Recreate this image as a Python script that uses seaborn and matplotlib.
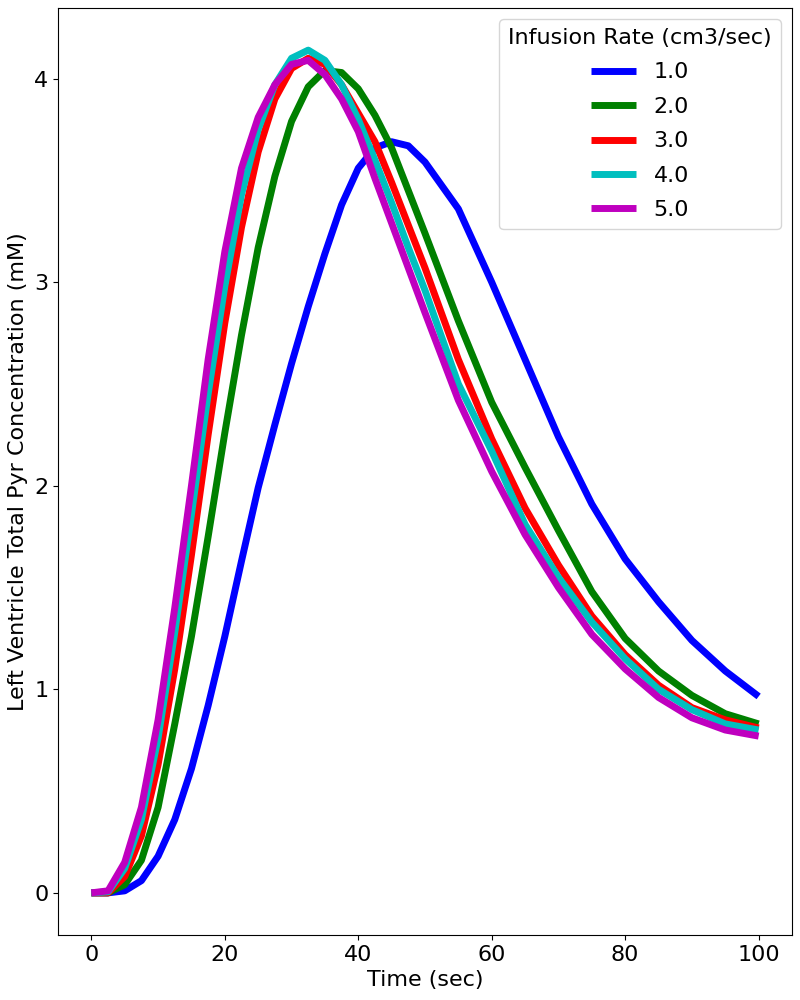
import matplotlib
matplotlib.use("Agg")
import matplotlib.pyplot as plt
import seaborn as sns
import pandas as pd
import numpy as np

# time grid (sec)
time = [0, 2.5, 5, 7.5, 10, 12.5, 15, 17.5, 20, 22.5, 25, 27.5, 30, 32.5, 35,
        37.5, 40, 42.5, 45, 47.5, 50, 55, 60, 65, 70, 75, 80, 85, 90, 95, 100]

# left ventricle total pyr concentration (mM), one list per infusion rate
rate_1 = [0.0, 0.0, 0.01, 0.06, 0.18, 0.36, 0.61, 0.92, 1.26, 1.63, 1.99, 2.30, 2.60,
          2.88, 3.14, 3.38, 3.56, 3.66, 3.69, 3.67, 3.59, 3.36, 3.00, 2.62, 2.24, 1.91,
          1.64, 1.43, 1.24, 1.09, 0.965]
rate_2 = [0.0, 0.0, 0.04, 0.16, 0.42, 0.83, 1.26, 1.75, 2.26, 2.74, 3.17, 3.52, 3.79,
          3.96, 4.04, 4.03, 3.95, 3.82, 3.66, 3.45, 3.24, 2.81, 2.41, 2.09, 1.78, 1.48,
          1.25, 1.09, 0.97, 0.88, 0.83]
rate_3 = [0.0, 0.0, 0.08, 0.28, 0.63, 1.10, 1.66, 2.25, 2.80, 3.27, 3.64, 3.90, 4.05,
          4.10, 4.07, 3.97, 3.83, 3.69, 3.49, 3.28, 3.07, 2.62, 2.23, 1.89, 1.61, 1.36,
          1.17, 1.02, 0.91, 0.85, 0.81]
rate_4 = [0.0, 0.005, 0.12, 0.36, 0.76, 1.28, 1.86, 2.45, 2.98, 3.43, 3.75, 3.97, 4.10,
          4.14, 4.09, 3.97, 3.80, 3.60, 3.39, 3.17, 2.96, 2.50, 2.17, 1.81, 1.55, 1.33,
          1.15, 1.00, 0.90, 0.83, 0.80]
rate_5 = [0.0, 0.01, 0.15, 0.42, 0.85, 1.40, 2.00, 2.62, 3.15, 3.56, 3.81, 3.97, 4.07,
          4.09, 4.02, 3.90, 3.74, 3.51, 3.29, 3.07, 2.85, 2.42, 2.07, 1.76, 1.50, 1.27,
          1.10, 0.96, 0.86, 0.80, 0.77]

rates = ["1.0", "2.0", "3.0", "4.0", "5.0"]
series = [rate_1, rate_2, rate_3, rate_4, rate_5]
colors = ["b", "g", "r", "c", "m"]

frames = []
for rate, values in zip(rates, series):
    frames.append(pd.DataFrame({"time": time, "conc": values, "rate": rate}))
data = pd.concat(frames)

fig, ax = plt.subplots(figsize=(8, 10), dpi=100)
fig.subplots_adjust(left=0.0725, right=0.99, top=0.992, bottom=0.065)

sns.lineplot(data=data, x="time", y="conc", hue="rate", hue_order=rates,
             palette=dict(zip(rates, colors)), lw=5,
             solid_joinstyle="round", solid_capstyle="butt", ax=ax)

ax.set_xlabel("Time (sec)", fontsize=16)
ax.set_ylabel("Left Ventricle Total Pyr Concentration (mM)", fontsize=16, labelpad=4)
ax.tick_params(labelsize=16)
ax.set_yticks([0, 1, 2, 3, 4])
ax.set_xticks([0, 20, 40, 60, 80, 100])

sns.move_legend(ax, "upper right", title="Infusion Rate (cm3/sec)",
                fontsize=16, title_fontsize=16, labelspacing=0.65)

fig.savefig("out.png")
